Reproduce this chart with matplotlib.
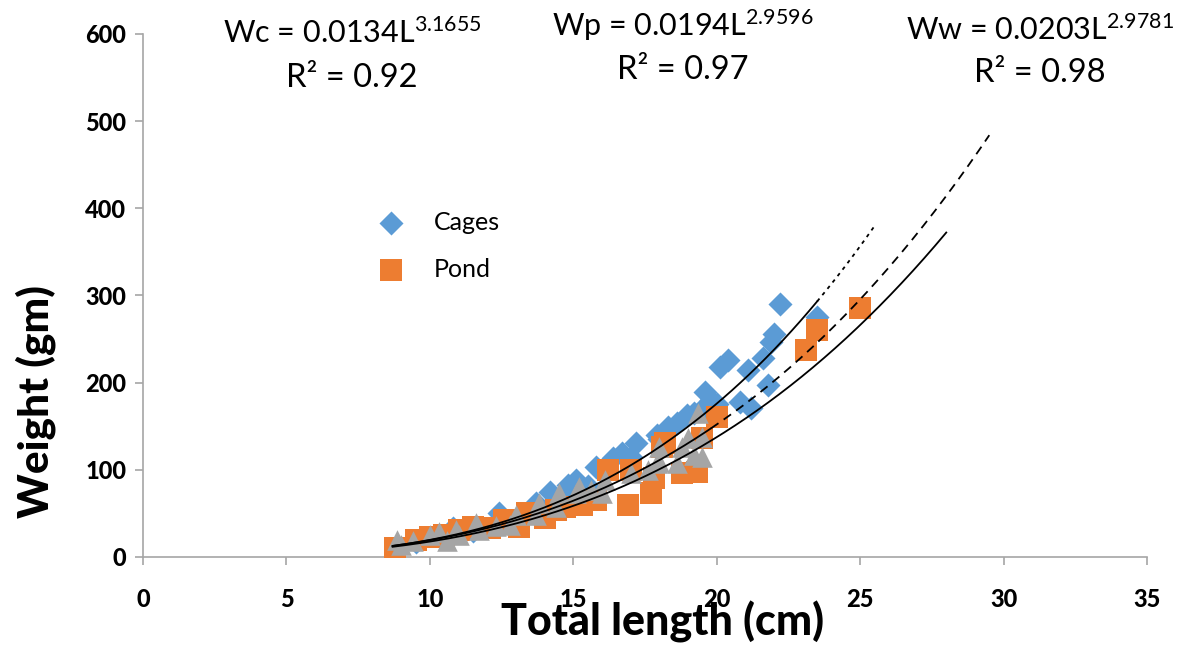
import numpy as np
import matplotlib
matplotlib.use("Agg")
import matplotlib.pyplot as plt

plt.rcParams['font.family'] = ['Lato', 'DejaVu Sans']
plt.rcParams['mathtext.fontset'] = 'custom'
plt.rcParams['mathtext.rm'] = 'Lato'
plt.rcParams['mathtext.it'] = 'Lato'

# Cages (blue diamonds)
cages_L = [9.5, 10.8, 11.5, 12.4, 13.2, 13.7, 14.2, 14.5, 14.8, 15.1, 15.5, 15.8, 16.4, 16.7,
           17.0, 17.2, 17.9, 18.0, 18.3, 18.6, 18.96, 19.2, 19.5, 19.6, 19.8, 20.0, 20.1, 20.4,
           20.8, 21.1, 21.2, 21.6, 21.8, 21.9, 22.0, 22.2, 23.5]
cages_W = [17, 33, 30, 50, 48, 62, 75, 68, 83, 88, 82, 103, 113, 119,
           115, 131, 140, 135, 149, 154, 163, 165, 170, 189, 180, 175, 218, 226,
           178, 215, 171, 228, 197, 247, 256, 290, 275]

# Pond (orange squares)
pond_L = [8.8, 9.5, 10.0, 10.5, 11.0, 11.5, 12.1, 12.6, 13.1, 13.4, 14.0, 14.4, 14.7, 15.3,
          15.8, 16.2, 16.9, 17.0, 17.7, 17.8, 18.1, 18.2, 18.8, 19.3, 19.5, 20.0, 23.1, 23.5, 25.0]
pond_W = [10, 20, 23, 25, 31, 34, 33, 42, 34, 50, 45, 54, 57, 60,
          65, 100, 60, 100, 73, 91, 126, 131, 96, 97, 137, 161, 237, 260, 286]

# Wild (grey triangles)
wild_L = [8.85, 9.0, 9.4, 10.0, 10.3, 10.6, 10.9, 11.0, 11.6, 11.7, 12.3, 12.8, 13.0, 13.7,
          13.8, 14.4, 14.5, 15.1, 15.2, 15.6, 16.0, 16.1, 17.0, 17.6, 17.9, 18.0, 18.0, 18.6,
          18.8, 19.0, 19.2, 19.35, 19.5, 19.5]
wild_W = [20, 14, 18, 25, 29, 18, 31, 25, 39, 31, 35, 37, 48, 48,
          62, 57, 73, 73, 80, 77, 73, 88, 96, 100, 108, 109, 126, 108,
          126, 137, 117, 165, 138, 115]

# Power trendlines W = a * L^b
eq_a = [0.0134, 0.0194, 0.0203]
eq_b = [3.1655, 2.9596, 2.9781]
eq_r2 = [0.92, 0.97, 0.98]
eq_names = ['Wc', 'Wp', 'Ww']

xticks = [0, 5, 10, 15, 20, 25, 30, 35]
yticks = [0, 100, 200, 300, 400, 500, 600]

fig = plt.figure(figsize=(11.93, 6.5), dpi=100)
ax = fig.add_axes([0.1199, 0.1431, 0.9615 - 0.1199, 0.9477 - 0.1431])

ax.scatter(cages_L, cages_W, marker='D', s=150, color='#5B9BD5', label='Cages', zorder=2, linewidths=0)
ax.scatter(pond_L, pond_W, marker='s', s=240, color='#ED7D31', label='Pond', zorder=3, linewidths=0)
ax.scatter(wild_L, wild_W, marker='^', s=220, color='#A5A5A5', zorder=4, linewidths=0)

def curve(a, b, x0, x1):
    x = np.linspace(x0, x1, 200)
    return x, a * x ** b

lw = 1.3
# Cages: solid then dotted forward extension
x, y = curve(eq_a[0], eq_b[0], 8.7, 23.5)
ax.plot(x, y, color='black', lw=lw, zorder=5)
x, y = curve(eq_a[0], eq_b[0], 23.5, 25.5)
ax.plot(x, y, color='black', lw=lw, ls=(0, (2, 2.5)), zorder=5)
# Pond: solid
x, y = curve(eq_a[1], eq_b[1], 8.7, 28.0)
ax.plot(x, y, color='black', lw=lw, zorder=5)
# Wild: solid then dashed extension
x, y = curve(eq_a[2], eq_b[2], 8.7, 19.8)
ax.plot(x, y, color='black', lw=lw, zorder=5)
x, y = curve(eq_a[2], eq_b[2], 19.8, 29.5)
ax.plot(x, y, color='black', lw=lw, ls=(0, (5, 3.5)), zorder=5)

ax.set_xlim(0, 35)
ax.set_ylim(0, 600)
ax.set_xticks(xticks)
ax.set_yticks(yticks)
ax.set_xticklabels([str(t) for t in xticks], fontsize=17, fontweight='black')
ax.set_yticklabels([str(t) for t in yticks], fontsize=17, fontweight='black')
for s in ['top', 'right']:
    ax.spines[s].set_visible(False)
for s in ['left', 'bottom']:
    ax.spines[s].set_color('#A6A6A6')
    ax.spines[s].set_linewidth(1.2)
ax.tick_params(axis='both', direction='out', color='#A6A6A6', length=6, width=1.2)
ax.tick_params(axis='x', pad=16)
ax.tick_params(axis='y', pad=6)

leg = ax.legend(loc='upper left', bbox_to_anchor=(0.2, 0.705), frameon=False, fontsize=18,
                labelspacing=0.95, handletextpad=0.7, scatterpoints=1)

fig.text(0.030, 0.382, 'Weight (gm)', rotation=90, fontsize=30.5, fontweight='black',
         ha='center', va='center')
fig.text(0.555, 0.043, 'Total length (cm)', fontsize=31, fontweight='black',
         ha='center', va='center')

eq_pos = [(352, 33, 78), (683, 25, 70), (1040, 30, 73)]
for (cx, y1, y2), n, a, b, r2 in zip(eq_pos, eq_names, eq_a, eq_b, eq_r2):
    fig.text(cx / 1193, 1 - y1 / 650, n + ' = ' + f'{a:.4f}' + 'L$^{\\mathrm{' + f'{b:.4f}' + '}}$',
             fontsize=22, ha='center', va='center')
    fig.text(cx / 1193, 1 - y2 / 650, 'R² = ' + f'{r2:.2f}', fontsize=23.5, ha='center', va='center')

fig.savefig('out.png', dpi=100)
